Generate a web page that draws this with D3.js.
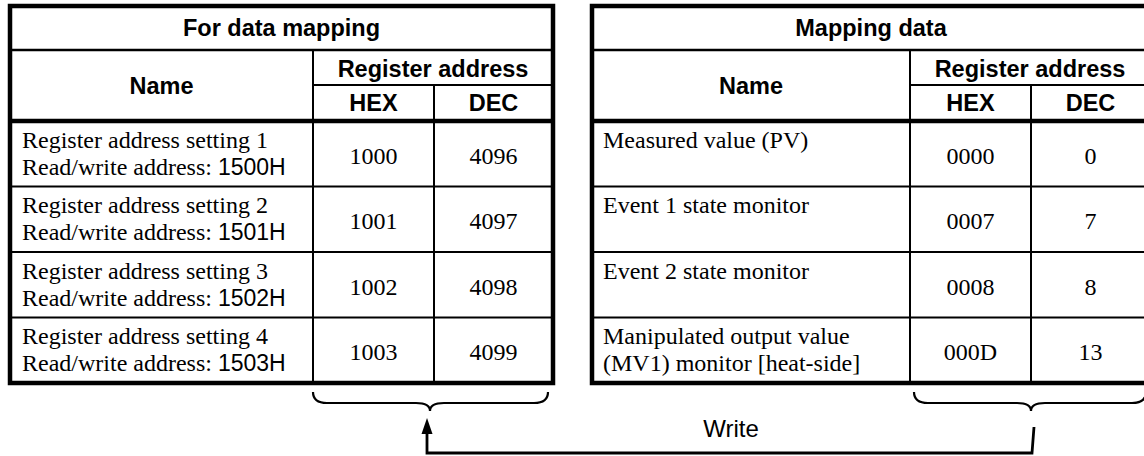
<!DOCTYPE html>
<html>
<head>
<meta charset="utf-8">
<script src="https://cdn.jsdelivr.net/npm/d3@7"></script>
<style>
  html, body { margin: 0; padding: 0; background: #fff; }
  svg { display: block; }
</style>
</head>
<body>
<svg id="chart" width="1144" height="456"></svg>
<script>
// ---------- data ----------
const leftTitle = "For data mapping";
const rightTitle = "Mapping data";
const headerName = "Name";
const headerReg = "Register address";
const headerHex = "HEX";
const headerDec = "DEC";

const leftNames = ["Register address setting 1", "Register address setting 2", "Register address setting 3", "Register address setting 4"];
const leftRWPrefix = "Read/write address: ";
const leftRW = ["1500H", "1501H", "1502H", "1503H"];
const leftHex = ["1000", "1001", "1002", "1003"];
const leftDec = ["4096", "4097", "4098", "4099"];

const rightNames = [["Measured value (PV)"], ["Event 1 state monitor"], ["Event 2 state monitor"], ["Manipulated output value", "(MV1) monitor [heat-side]"]];
const rightHex = ["0000", "0007", "0008", "000D"];
const rightDec = ["0", "7", "8", "13"];

const arrowLabel = "Write";

// ---------- layout ----------
const svg = d3.select("#chart");
const SANS = "'Liberation Sans', Arial, sans-serif";
const SERIF = "'Liberation Serif', 'Times New Roman', serif";
const HEAD_FS = 23.5;
const BODY_FS = 24;

const yTop = 6, yTitle = 50, yReg = 85, yHead = 121, yBottom = 383;

const tables = [
  { title: leftTitle, x0: 10, xc1: 313, xc2: 434, x1: 553, pad: 12,
    rows: leftNames.map((n, i) => ({ lines: [n, null], rw: leftRW[i], hex: leftHex[i], dec: leftDec[i] })) },
  { title: rightTitle, x0: 592, xc1: 910, xc2: 1031, x1: 1150, pad: 11,
    rows: rightNames.map((n, i) => ({ lines: n, rw: null, hex: rightHex[i], dec: rightDec[i] })) }
];

tables.forEach(t => {
  const g = svg.append("g");
  const y = d3.scaleBand().domain(d3.range(t.rows.length)).range([yHead, yBottom]);

  // row separators
  g.selectAll("line.row").data(d3.range(1, t.rows.length)).join("line")
    .attr("x1", t.x0).attr("x2", t.x1)
    .attr("y1", d => y(d)).attr("y2", d => y(d))
    .attr("stroke", "#000").attr("stroke-width", 2);

  // vertical column lines
  g.append("line").attr("x1", t.xc1).attr("x2", t.xc1).attr("y1", yTitle).attr("y2", yBottom)
    .attr("stroke", "#000").attr("stroke-width", 2);
  g.append("line").attr("x1", t.xc2).attr("x2", t.xc2).attr("y1", yReg).attr("y2", yBottom)
    .attr("stroke", "#000").attr("stroke-width", 2);
  // horizontal header lines
  g.append("line").attr("x1", t.x0).attr("x2", t.x1).attr("y1", yTitle).attr("y2", yTitle)
    .attr("stroke", "#000").attr("stroke-width", 2.5);
  g.append("line").attr("x1", t.xc1).attr("x2", t.x1).attr("y1", yReg).attr("y2", yReg)
    .attr("stroke", "#000").attr("stroke-width", 2);
  g.append("line").attr("x1", t.x0).attr("x2", t.x1).attr("y1", yHead).attr("y2", yHead)
    .attr("stroke", "#000").attr("stroke-width", 4.5);
  // outer border
  g.append("rect").attr("x", t.x0).attr("y", yTop).attr("width", t.x1 - t.x0).attr("height", yBottom - yTop)
    .attr("fill", "none").attr("stroke", "#000").attr("stroke-width", 4.5);

  // header texts
  const head = (txt, x, yy) => g.append("text").attr("x", x).attr("y", yy)
    .attr("text-anchor", "middle").attr("dominant-baseline", "central")
    .attr("font-family", SANS).attr("font-weight", "bold").attr("font-size", HEAD_FS).text(txt);
  head(t.title, (t.x0 + t.x1) / 2, (yTop + yTitle) / 2);
  head(headerName, (t.x0 + t.xc1) / 2, (yTitle + yHead) / 2);
  head(headerReg, (t.xc1 + t.x1) / 2, (yTitle + yReg) / 2 + 1);
  head(headerHex, (t.xc1 + t.xc2) / 2, (yReg + yHead) / 2);
  head(headerDec, (t.xc2 + t.x1) / 2, (yReg + yHead) / 2);

  // body rows
  t.rows.forEach((r, i) => {
    const cy = y(i) + y.bandwidth() / 2;
    g.append("text").attr("x", t.x0 + t.pad).attr("y", cy - 14)
      .attr("dominant-baseline", "central").attr("font-family", SERIF).attr("font-size", BODY_FS)
      .text(r.lines[0]);
    if (r.rw) {
      const l2 = g.append("text").attr("x", t.x0 + t.pad).attr("y", cy + 13)
        .attr("dominant-baseline", "central").attr("font-size", BODY_FS);
      l2.append("tspan").attr("font-family", SERIF).text(leftRWPrefix);
      l2.append("tspan").attr("font-family", SANS).attr("font-size", BODY_FS - 1).text(r.rw);
    } else if (r.lines[1]) {
      g.append("text").attr("x", t.x0 + t.pad).attr("y", cy + 13)
        .attr("dominant-baseline", "central").attr("font-family", SERIF).attr("font-size", BODY_FS)
        .text(r.lines[1]);
    }
    g.append("text").attr("x", (t.xc1 + t.xc2) / 2).attr("y", cy + 2)
      .attr("text-anchor", "middle").attr("dominant-baseline", "central")
      .attr("font-family", SERIF).attr("font-size", BODY_FS).text(r.hex);
    g.append("text").attr("x", (t.xc2 + t.x1) / 2).attr("y", cy + 2)
      .attr("text-anchor", "middle").attr("dominant-baseline", "central")
      .attr("font-family", SERIF).attr("font-size", BODY_FS).text(r.dec);
  });
});

// ---------- braces ----------
function bracePath(x1, x2, xm, y0, y1, y2, r) {
  return `M${x1},${y0} Q${x1},${y1} ${x1 + r},${y1} L${xm - r},${y1} Q${xm},${y1} ${xm},${y2} ` +
         `Q${xm},${y1} ${xm + r},${y1} L${x2 - r},${y1} Q${x2},${y1} ${x2},${y0}`;
}
svg.append("path").attr("d", bracePath(313, 548, 430, 392, 403, 411, 14))
  .attr("fill", "none").attr("stroke", "#000").attr("stroke-width", 2.2);
svg.append("path").attr("d", bracePath(914, 1146, 1031, 392, 403, 411, 14))
  .attr("fill", "none").attr("stroke", "#000").attr("stroke-width", 2.2);

// ---------- arrow ----------
const ay = 453;
svg.append("path").attr("d", `M1034,427 L1032,${ay} L427,${ay} L427,432`)
  .attr("fill", "none").attr("stroke", "#000").attr("stroke-width", 2.8);
svg.append("path").attr("d", `M427,418 L421.5,434 L432.5,434 Z`).attr("fill", "#000");

svg.append("text").attr("x", 731).attr("y", 428).attr("text-anchor", "middle")
  .attr("dominant-baseline", "central").attr("font-family", SANS).attr("font-size", 24)
  .text(arrowLabel);
</script>
</body>
</html>
